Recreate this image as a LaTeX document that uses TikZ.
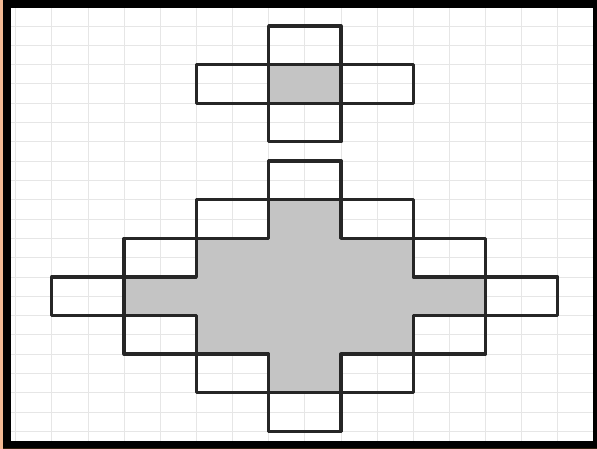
\documentclass[tikz,border=0pt]{standalone}
\usepackage{tikz}
\usepackage{xcolor}
\definecolor{peach}{RGB}{243,185,148}
\definecolor{pencil}{RGB}{196,196,196}
\definecolor{paperline}{RGB}{230,230,230}

\begin{document}
\begin{tikzpicture}[x=36.14pt, y=-19.3pt,
    box/.style={draw=black!85, line width=3.3pt, line join=round}]
    \useasboundingbox (-15.7pt,26pt) rectangle (581.3pt,-423pt);
    \fill[black] (-15.7pt,26pt) rectangle (581.3pt,-423pt);
    \fill[peach] (-15.7pt,26pt) rectangle (-12.7pt,-423pt);
    \fill[black!75!brown] (-12.7pt,-421.5pt) rectangle (581.3pt,-423pt);
    \fill[white] (-4.7pt,18pt) rectangle (577.3pt,-414.7pt);
    \foreach \i in {0,...,15} \draw[paperline, line width=0.8pt] (\i,-0.93) -- (\i,21.49);
    \foreach \j in {0,...,21} \draw[paperline, line width=0.8pt] (-0.13,\j) -- (15.97,\j);
    % small cross
    \fill[pencil] (7,2) rectangle ++(2,2);
    \foreach \c/\r in {7/0, 5/2, 9/2, 7/4} \draw[box] (\c,\r) rectangle ++(2,2);
    % big staircase
    \foreach \r in {-2,...,2} {
        \pgfmathtruncatemacro\n{2-abs(\r)}
        \foreach \c in {-\n,...,\n}
            \fill[pencil] ({7+2*(\c)},{13+2*(\r)}) rectangle ++(2,2);
    }
    \foreach \r in {-3,...,3} {
        \pgfmathtruncatemacro\n{3-abs(\r)}
        \foreach \c in {-\n,\n}
            \draw[box] ({7+2*(\c)},{13+2*(\r)}) rectangle ++(2,2);
    }
\end{tikzpicture}
\end{document}
